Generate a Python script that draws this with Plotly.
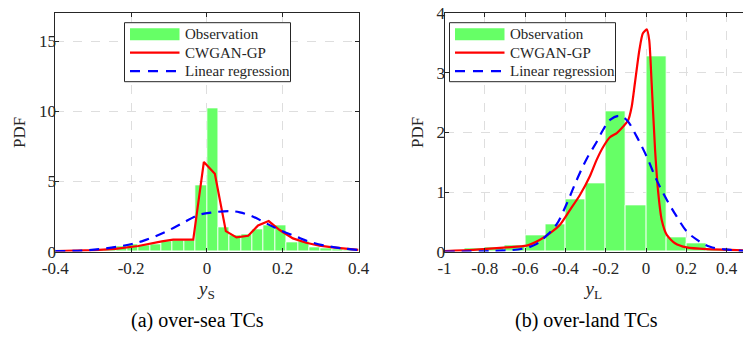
import plotly.graph_objects as go

# ---------------- data ----------------
# (a) over-sea TCs
sea_bin_left = [-0.42, -0.39, -0.36, -0.33, -0.30, -0.27, -0.24, -0.21, -0.18, -0.15,
                -0.12, -0.09, -0.06, -0.03, 0.00, 0.03, 0.06, 0.09, 0.12, 0.15,
                0.18, 0.21, 0.24, 0.27, 0.30, 0.33, 0.36, 0.39]
sea_bin_width = 0.03
sea_obs_pdf = [0.02, 0.03, 0.05, 0.08, 0.12, 0.20, 0.35, 0.51, 0.46, 0.51,
               0.70, 0.82, 0.82, 4.75, 10.23, 1.70, 1.13, 1.25, 1.58, 1.85,
               1.89, 0.63, 0.70, 0.30, 0.25, 0.15, 0.10, 0.05]

sea_gan_x = [-0.40, -0.295, -0.242, -0.181, -0.119, -0.089, -0.036, -0.008, 0.021, 0.050,
             0.078, 0.109, 0.135, 0.163, 0.192, 0.227, 0.262, 0.297, 0.332, 0.367, 0.40]
sea_gan_y = [0.03, 0.10, 0.20, 0.40, 0.73, 0.85, 0.85, 6.40, 5.55, 1.46,
             1.01, 1.13, 1.87, 2.18, 1.54, 0.94, 0.63, 0.42, 0.30, 0.20, 0.13]

sea_lr_x = [-0.40, -0.313, -0.225, -0.172, -0.111, -0.067, -0.023, 0.017, 0.061, 0.087,
            0.122, 0.157, 0.192, 0.236, 0.271, 0.315, 0.359, 0.40]
sea_lr_y = [0.03, 0.10, 0.40, 0.73, 1.39, 1.99, 2.60, 2.80, 2.89, 2.80,
            2.49, 2.01, 1.54, 1.06, 0.70, 0.41, 0.23, 0.11]

# (b) over-land TCs
land_bin_left = [-1.0, -0.9, -0.8, -0.7, -0.6, -0.5, -0.4, -0.3, -0.2, -0.1,
                 0.0, 0.1, 0.2, 0.3, 0.4]
land_bin_width = 0.1
land_obs_pdf = [0.02, 0.05, 0.07, 0.11, 0.27, 0.45, 0.88, 1.15, 2.36, 0.78,
                3.28, 0.235, 0.146, 0.04, 0.01]

land_gan_x = [-1.0, -0.857, -0.691, -0.592, -0.526, -0.476, -0.427, -0.377, -0.328, -0.278,
              -0.245, -0.212, -0.179, -0.145, -0.121, -0.088, -0.071, -0.055, -0.033, -0.016,
              0.004, 0.016, 0.028, 0.045, 0.061, 0.078, 0.103, 0.144, 0.202, 0.301, 0.417, 0.483]
land_gan_y = [0.01, 0.03, 0.07, 0.10, 0.20, 0.31, 0.45, 0.70, 0.95, 1.27,
              1.54, 1.76, 1.92, 1.99, 2.07, 2.21, 2.43, 2.83, 3.38, 3.66,
              3.73, 3.55, 2.83, 1.71, 0.98, 0.53, 0.28, 0.14, 0.07, 0.04, 0.03, 0.02]

land_lr_x = [-1.0, -0.774, -0.609, -0.542, -0.493, -0.443, -0.394, -0.344, -0.294, -0.245,
             -0.212, -0.179, -0.133, -0.096, -0.046, 0.004, 0.053, 0.103, 0.152, 0.202,
             0.252, 0.318, 0.417, 0.483]
land_lr_y = [0.0, 0.01, 0.05, 0.13, 0.27, 0.46, 0.80, 1.20, 1.56, 1.84,
             2.05, 2.21, 2.28, 2.21, 1.93, 1.59, 1.20, 0.87, 0.59, 0.34,
             0.20, 0.08, 0.03, 0.01]

sea_xticks = [-0.4, -0.2, 0, 0.2, 0.4]
sea_xticktext = ["-0.4", "-0.2", "0", "0.2", "0.4"]
sea_yticks = [0, 5, 10, 15]
land_xticks = [-1, -0.8, -0.6, -0.4, -0.2, 0, 0.2, 0.4]
land_xticktext = ["-1", "-0.8", "-0.6", "-0.4", "-0.2", "0", "0.2", "0.4"]
land_yticks = [0, 1, 2, 3, 4]

legend_names = ["Observation", "CWGAN-GP", "Linear regression"]
captions = ["(a) over-sea TCs", "(b) over-land TCs"]

# ---------------- style / layout ----------------
FONT = "Liberation Serif"
AX = "#262626"
GRID = "#dedede"
GREEN = "#66ff66"
RED = "#ff0000"
BLUE = "#0000ff"
DASH = "10px,7px"
W, H = 743, 338


def px_x(p):                 # pixel -> paper x
    return p / W


def px_y(p):                 # pixel -> paper y
    return (H - p) / H


def centers(lefts, w):
    return [l + w / 2 for l in lefts]


fig = go.Figure()

panels = [
    dict(xa="x", ya="y", lefts=sea_bin_left, w=sea_bin_width, h=sea_obs_pdf,
         gx=sea_gan_x, gy=sea_gan_y, gshape="linear", lx=sea_lr_x, ly=sea_lr_y),
    dict(xa="x2", ya="y2", lefts=land_bin_left, w=land_bin_width, h=land_obs_pdf,
         gx=land_gan_x, gy=land_gan_y, gshape="spline", lx=land_lr_x, ly=land_lr_y),
]

for p in panels:
    fig.add_trace(go.Bar(x=centers(p["lefts"], p["w"]), y=p["h"], width=p["w"],
                         marker=dict(color=GREEN, line=dict(color="white", width=0.8)),
                         name=legend_names[0], showlegend=False, xaxis=p["xa"], yaxis=p["ya"]))
    fig.add_trace(go.Scatter(x=p["gx"], y=p["gy"], mode="lines",
                             line=dict(color=RED, width=2.2, shape=p["gshape"], smoothing=0.6),
                             name=legend_names[1], showlegend=False, xaxis=p["xa"], yaxis=p["ya"]))
    fig.add_trace(go.Scatter(x=p["lx"], y=p["ly"], mode="lines",
                             line=dict(color=BLUE, width=2.2, dash=DASH, shape="spline"),
                             name=legend_names[2], showlegend=False, xaxis=p["xa"], yaxis=p["ya"]))

ydom = [px_y(251.6), px_y(13.3)]
common_ax = dict(showline=True, linecolor=AX, linewidth=1, ticks="inside", ticklen=4,
                 tickcolor=AX, tickfont=dict(family=FONT, size=17, color=AX), automargin=False,
                 ticklabeloverflow="allow",
                 showgrid=True, gridcolor=GRID, griddash="dash", gridwidth=1, zeroline=False)

# ---- legend boxes (drawn as shapes + text) ----
shapes = []
annotations = []
for lx0 in (124.5, 449.5):
    ly0 = 22.7
    shapes.append(dict(type="rect", xref="paper", yref="paper",
                       x0=px_x(lx0), x1=px_x(lx0 + 166), y0=px_y(ly0), y1=px_y(ly0 + 59),
                       line=dict(color=AX, width=1), fillcolor="white", layer="above"))
    rows = [ly0 + 11.6, ly0 + 30.0, ly0 + 48.4]
    shapes.append(dict(type="rect", xref="paper", yref="paper",
                       x0=px_x(lx0 + 5.5), x1=px_x(lx0 + 55), y0=px_y(rows[0] - 6), y1=px_y(rows[0] + 6),
                       line=dict(width=0), fillcolor=GREEN, layer="above"))
    shapes.append(dict(type="line", xref="paper", yref="paper",
                       x0=px_x(lx0 + 5.5), x1=px_x(lx0 + 55), y0=px_y(rows[1]), y1=px_y(rows[1]),
                       line=dict(color=RED, width=2.2), layer="above"))
    shapes.append(dict(type="line", xref="paper", yref="paper",
                       x0=px_x(lx0 + 5.5), x1=px_x(lx0 + 55), y0=px_y(rows[2]), y1=px_y(rows[2]),
                       line=dict(color=BLUE, width=2.2, dash="10px,8px"), layer="above"))
    for name, ry in zip(legend_names, rows):
        annotations.append(dict(text=name, x=px_x(lx0 + 58), y=px_y(ry), xref="paper", yref="paper",
                                xanchor="left", yanchor="middle", showarrow=False,
                                font=dict(family=FONT, size=15, color=AX)))

annotations += [
    dict(text=captions[0], x=px_x(197.5), y=px_y(320), xref="paper", yref="paper",
         xanchor="center", yanchor="middle",
         showarrow=False, font=dict(family=FONT, size=20, color="#000000")),
    dict(text=captions[1], x=px_x(586), y=px_y(320), xref="paper", yref="paper",
         xanchor="center", yanchor="middle",
         showarrow=False, font=dict(family=FONT, size=20, color="#000000")),
]

fig.update_layout(
    width=W, height=H, margin=dict(l=0, r=0, t=0, b=0, autoexpand=False),
    paper_bgcolor="white", plot_bgcolor="white", barmode="overlay", bargap=0,
    showlegend=False,
    font=dict(family=FONT, size=16, color=AX),
    xaxis=dict(domain=[px_x(55.3), px_x(358.5)], range=[-0.4, 0.4], anchor="y",
               tickvals=sea_xticks, ticktext=sea_xticktext, mirror="ticks", ticklabelstandoff=1,
               title=dict(text="<i>y</i><sub>S</sub>", font=dict(family=FONT, size=19), standoff=4),
               **common_ax),
    yaxis=dict(domain=ydom, range=[0, 17], anchor="x", tickvals=sea_yticks, mirror="ticks",
               ticklabelstandoff=-5,
               title=dict(text="PDF", font=dict(family=FONT, size=17), standoff=8),
               **common_ax),
    xaxis2=dict(domain=[px_x(444.5), 1.0], range=[-1, -1 + (W - 444.5) / 201.5], anchor="y2",
                tickvals=land_xticks, ticktext=land_xticktext, mirror="ticks", ticklabelstandoff=1,
                title=dict(text="<i>y</i><sub>L</sub>", font=dict(family=FONT, size=19), standoff=4),
                **common_ax),
    yaxis2=dict(domain=ydom, range=[0, 4], anchor="x2", tickvals=land_yticks, mirror=False,
                ticklabelstandoff=-5,
                title=dict(text="PDF", font=dict(family=FONT, size=17), standoff=8),
                **common_ax),
    shapes=shapes,
    annotations=annotations,
)

# remove the browser's default page margin so the 743x338 figure fills the window
fig.write_html("out.html", config={"displayModeBar": False},
               post_script="document.body.style.margin='0px';")
